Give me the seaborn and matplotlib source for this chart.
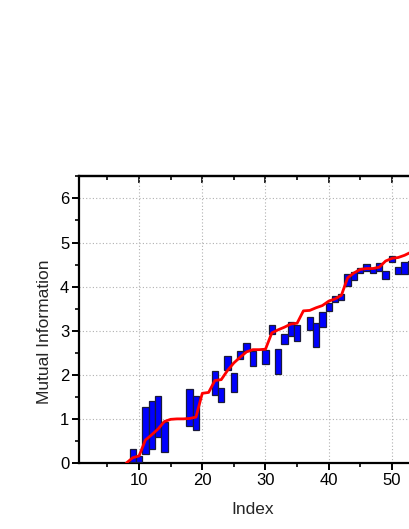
import numpy as np
import pandas as pd
import matplotlib
matplotlib.use("Agg")
import matplotlib.pyplot as plt
import seaborn as sns
from matplotlib.ticker import MultipleLocator

# ---- data ----
bar_index = [9, 10, 11, 12, 13, 14, 18, 19, 22, 23, 24, 25, 26, 27, 28, 30,
             31, 32, 33, 34, 35, 37, 38, 39, 40, 41, 42, 43, 44, 45, 46, 47,
             48, 49, 50, 51, 52, 53]
bar_low = [0.03, 0.02, 0.21, 0.32, 0.60, 0.25, 0.84, 0.75, 1.55, 1.38, 2.10,
           1.62, 2.36, 2.53, 2.19, 2.25, 2.93, 2.02, 2.70, 2.89, 2.77, 3.02,
           2.64, 3.08, 3.44, 3.65, 3.70, 4.01, 4.14, 4.31, 4.36, 4.30, 4.36,
           4.18, 4.56, 4.29, 4.29, 4.31]
bar_high = [0.31, 0.15, 1.27, 1.41, 1.52, 0.92, 1.67, 1.53, 2.09, 1.70, 2.42,
            2.05, 2.55, 2.72, 2.55, 2.57, 3.12, 2.59, 2.92, 3.20, 3.12, 3.31,
            3.17, 3.42, 3.62, 3.78, 3.84, 4.29, 4.33, 4.42, 4.52, 4.42, 4.54,
            4.36, 4.69, 4.45, 4.55, 4.58]

line_index = list(range(8, 54))
line_value = [0.00, 0.12, 0.16, 0.52, 0.64, 0.77, 0.94, 0.99, 1.00, 1.00,
              1.01, 1.04, 1.58, 1.60, 1.87, 1.89, 2.10, 2.27, 2.40, 2.52,
              2.57, 2.57, 2.58, 2.95, 3.02, 3.08, 3.15, 3.17, 3.45, 3.46,
              3.52, 3.57, 3.67, 3.72, 3.80, 4.20, 4.31, 4.39, 4.41, 4.41,
              4.44, 4.58, 4.64, 4.66, 4.71, 4.78]

x_ticks = [10, 20, 30, 40, 50]
y_ticks = [0, 1, 2, 3, 4, 5, 6]

sns.set_style("white")
plt.rcParams["font.family"] = ["Liberation Sans", "DejaVu Sans"]

fig = plt.figure(figsize=(4.09, 5.29), dpi=100)
ax = fig.add_axes([0.1932, 0.1248, 0.85, 0.5418])

bars = pd.DataFrame({"index": bar_index, "low": bar_low, "high": bar_high})
ax.bar(bars["index"], bars["high"] - bars["low"], bottom=bars["low"],
       width=1.0, color="#0000ff", edgecolor="#1a1a3a", linewidth=0.9,
       zorder=3)

lines = pd.DataFrame({"index": line_index, "value": line_value})
sns.lineplot(data=lines, x="index", y="value", color="#ff0000",
             linewidth=2.0, ax=ax, zorder=4)

ax.set_xlim(0.5, 55.5)
ax.set_ylim(0, 6.5)
ax.set_xticks(x_ticks)
ax.set_yticks(y_ticks)
ax.xaxis.set_minor_locator(MultipleLocator(5))
ax.yaxis.set_minor_locator(MultipleLocator(0.5))
ax.grid(True, which="major", color="#b0b0b0", linestyle=(0, (1, 2)),
        linewidth=0.8, zorder=0)
ax.set_axisbelow(True)

ax.tick_params(axis="both", which="major", direction="out", length=5,
               width=1.4, labelsize=12, pad=2, colors="black")
ax.tick_params(axis="both", which="minor", direction="out", length=3,
               width=1.4)
ax.tick_params(axis="x", which="both", bottom=True, top=False)
ax.tick_params(axis="y", which="both", left=True, right=False)

for side in ["left", "bottom", "top", "right"]:
    ax.spines[side].set_linewidth(1.6)
    ax.spines[side].set_color("black")

sec = ax.secondary_xaxis("top")
sec.set_xticks(x_ticks)
sec.xaxis.set_minor_locator(MultipleLocator(5))
sec.tick_params(axis="x", which="major", direction="in", length=5,
                width=1.4, labeltop=False)
sec.tick_params(axis="x", which="minor", direction="in", length=3,
                width=1.4)
sec.spines["top"].set_linewidth(1.6)

ax.set_xlabel("Index", fontsize=12.5, labelpad=10)
ax.set_ylabel("Mutual Information", fontsize=12.5)
ax.yaxis.set_label_coords(-0.078, 0.458)

fig.savefig("out.png", dpi=100)
